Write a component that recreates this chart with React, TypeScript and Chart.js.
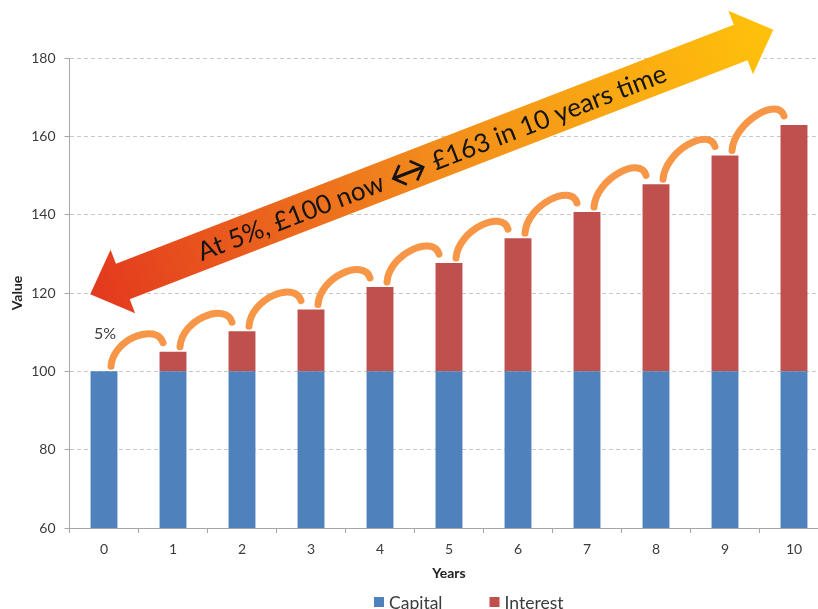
import React, { useEffect, useRef } from "react";
import { Chart, registerables } from "chart.js";

Chart.register(...registerables);

// Years since the deposit
const years = ["0", "1", "2", "3", "4", "5", "6", "7", "8", "9", "10"];
// Original £100 deposit, unchanged every year
const capital = [100, 100, 100, 100, 100, 100, 100, 100, 100, 100, 100];
// Interest accumulated on top of the deposit
const interest = [0, 5, 10.25, 15.76, 21.55, 27.63, 34.01, 40.71, 47.75, 55.13, 62.89];
const seriesNames = ["Capital", "Interest"];
const rateLabel = "5%";
// Headline split so the arrow symbol can be set larger than the words
const headlineParts = ["At 5%, £100 now ", "\u2194", " £163 in 10 years time"];

const yMin = 60;
const yMax = 180;
const yStep = 20;

const FONT = "Lato, 'Open Sans', sans-serif";
const BLUE = "#4F81BD";
const RED = "#C0504D";
const ORANGE = "#F79646";
const AXIS = "#A6A6A6";
const TEXT = "#3b3b3b";

// Anchors of the long double arrow, in (category, value) units
const arrowFrom = { x: -0.2, y: 119.7 };
const arrowTo = { x: 9.7, y: 187.2 };

const decorations = {
  id: "decorations",
  afterDatasetsDraw(chart: any) {
    const { ctx, chartArea } = chart;
    const xs = chart.scales.x;
    const ys = chart.scales.y;
    const tops = chart.getDatasetMeta(1).data;

    // Curved hops between consecutive bar tops
    ctx.save();
    ctx.strokeStyle = ORANGE;
    ctx.lineWidth = 7;
    ctx.lineCap = "round";
    for (let i = 0; i < tops.length - 1; i++) {
      const a = tops[i];
      const b = tops[i + 1];
      const sx = a.x + 7;
      const sy = a.y - 5;
      const ex = b.x - 10;
      const ey = b.y - 9;
      ctx.beginPath();
      ctx.moveTo(sx, sy);
      ctx.bezierCurveTo(sx + 2, sy - 28, ex - 6, ey - 20, ex, ey);
      ctx.stroke();
    }
    ctx.restore();

    // Rate label above the first bar
    ctx.save();
    ctx.font = `16px ${FONT}`;
    ctx.fillStyle = TEXT;
    ctx.textAlign = "center";
    ctx.textBaseline = "middle";
    ctx.fillText(rateLabel, tops[0].x + 1, tops[0].y - 37);
    ctx.restore();

    // Long double-headed arrow with the headline
    const x0 = xs.getPixelForValue(arrowFrom.x);
    const y0 = ys.getPixelForValue(arrowFrom.y);
    const x1 = xs.getPixelForValue(arrowTo.x);
    const y1 = ys.getPixelForValue(arrowTo.y);
    const len = Math.hypot(x1 - x0, y1 - y0);
    const ang = Math.atan2(y1 - y0, x1 - x0);
    const head = 35;
    const headHalf = 34;
    const shaftHalf = 19;

    ctx.save();
    const grad = ctx.createLinearGradient(x0, y0, x1, y1);
    grad.addColorStop(0, "#E3381E");
    grad.addColorStop(0.5, "#F28B1C");
    grad.addColorStop(1, "#FFC20A");
    ctx.translate(x0, y0);
    ctx.rotate(ang);
    ctx.beginPath();
    ctx.moveTo(0, 0);
    ctx.lineTo(head, -headHalf);
    ctx.lineTo(head, -shaftHalf);
    ctx.lineTo(len - head, -shaftHalf);
    ctx.lineTo(len - head, -headHalf);
    ctx.lineTo(len, 0);
    ctx.lineTo(len - head, headHalf);
    ctx.lineTo(len - head, shaftHalf);
    ctx.lineTo(head, shaftHalf);
    ctx.lineTo(head, headHalf);
    ctx.closePath();
    ctx.setTransform(1, 0, 0, 1, 0, 0);
    ctx.fillStyle = grad;
    ctx.fill();
    ctx.translate(x0, y0);
    ctx.rotate(ang);
    ctx.fillStyle = "#141414";
    ctx.textAlign = "left";
    ctx.textBaseline = "alphabetic";
    const fonts = [`26px ${FONT}`, `40px ${FONT}`, `26px ${FONT}`];
    const baselines = [9.5, 14.5, 9.5];
    const widths = headlineParts.map((t, i) => {
      ctx.font = fonts[i];
      return ctx.measureText(t).width;
    });
    let tx = len / 2 - widths.reduce((s, w) => s + w, 0) / 2;
    headlineParts.forEach((t, i) => {
      ctx.font = fonts[i];
      ctx.fillText(t, tx, baselines[i]);
      tx += widths[i];
    });
    ctx.restore();

    // Legend under the axis title
    ctx.save();
    ctx.font = `17.5px ${FONT}`;
    ctx.textBaseline = "middle";
    ctx.textAlign = "left";
    let lx = chartArea.left + 304.5;
    const ly = chartArea.bottom + 75;
    chart.data.datasets.forEach((ds: any) => {
      ctx.fillStyle = ds.backgroundColor;
      ctx.fillRect(lx, ly - 6, 10, 10);
      ctx.fillStyle = TEXT;
      ctx.fillText(ds.label, lx + 15, ly);
      lx += 15 + ctx.measureText(ds.label).width + 47;
    });
    ctx.restore();
  },
};

export default function App() {
  const ref = useRef<HTMLCanvasElement>(null);

  useEffect(() => {
    const chart = new Chart(ref.current as HTMLCanvasElement, {
      type: "bar",
      data: {
        labels: years,
        datasets: [
          { label: seriesNames[0], data: capital, backgroundColor: BLUE },
          { label: seriesNames[1], data: interest, backgroundColor: RED },
        ],
      },
      options: {
        responsive: false,
        animation: false,
        datasets: { bar: { barPercentage: 0.39, categoryPercentage: 1 } },
        layout: { padding: { top: 58, right: 1.5, bottom: 34, left: 0 } },
        plugins: { legend: { display: false }, tooltip: { enabled: false } },
        scales: {
          x: {
            stacked: true,
            grid: {
              drawOnChartArea: false,
              drawTicks: true,
              tickLength: 5,
              tickColor: AXIS,
              offset: true,
            },
            border: { color: AXIS, width: 1 },
            ticks: { color: TEXT, font: { family: FONT, size: 14 }, padding: 8 },
            title: {
              display: true,
              text: "Years",
              color: "#222",
              font: { family: FONT, size: 14, weight: "bold" },
              padding: { top: 4, bottom: 4.6 },
            },
            afterFit: (s: any) => {
              s.height = 58;
            },
          },
          y: {
            stacked: true,
            min: yMin,
            max: yMax,
            ticks: { stepSize: yStep, color: TEXT, font: { family: FONT, size: 14 }, padding: 9 },
            grid: { color: "#C8C8C8", tickLength: 5, tickColor: AXIS, tickBorderDash: [] },
            border: { color: AXIS, width: 1, dash: [4, 3] },
            title: {
              display: true,
              text: "Value",
              color: "#222",
              font: { family: FONT, size: 14, weight: "bold" },
              padding: { top: 8.6, bottom: 0 },
            },
            afterFit: (s: any) => {
              s.width = 69.5;
            },
          },
        },
      } as any,
      plugins: [decorations],
    });
    return () => chart.destroy();
  }, []);

  return (
    <div
      style={{
        position: "absolute",
        left: 0,
        top: 0,
        width: 818,
        height: 609,
        overflow: "hidden",
        background: "#fff",
      }}
    >
      <canvas ref={ref} width={830} height={620} style={{ display: "block" }} />
    </div>
  );
}
